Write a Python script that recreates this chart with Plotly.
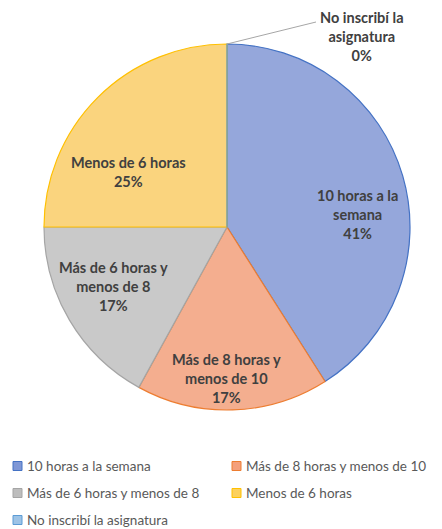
import plotly.graph_objects as go

categories = ["10 horas a la semana", "Más de 8 horas y menos de 10",
              "Más de 6 horas y menos de 8", "Menos de 6 horas",
              "No inscribí la asignatura"]
values = [41, 17, 17, 25, 0]
wrapped_labels = ["10 horas a la<br>semana", "Más de 8 horas y<br>menos de 10",
                  "Más de 6 horas y<br>menos de 8", "Menos de 6 horas",
                  "No inscribí la<br>asignatura"]

fill_colors = ["#95a7db", "#f4ae8f", "#c9c9c9", "#fad47e", "#9dc3e6"]
line_colors = ["#4472c4", "#ed7d31", "#a5a5a5", "#ffc000", "#5b9bd5"]
legend_fill = ["#7f97d6", "#f4a07c", "#bdbdbd", "#fcd15f", "#9dc3e6"]

# page body has an 8px margin; work in window pixels and convert
OFF = 8
W, H = 442 - OFF, 529 - OFF


def px_x(x):
    return (x - OFF) / W


def px_y(y):
    return 1 - (y - OFF) / H


fig = go.Figure()
fig.add_trace(go.Pie(
    labels=categories, values=values, sort=False, direction="clockwise",
    rotation=0, textinfo="none", hoverinfo="skip", showlegend=False,
    marker=dict(colors=fill_colors, line=dict(color=line_colors, width=1.2)),
    domain=dict(x=[px_x(44), px_x(410)], y=[px_y(410), px_y(44)]),
))

total = sum(values)
label_pos = [(357, 215), (226, 378), (113, 286), (128, 172), (362, 37)]
annotations = []
shapes = []
for lab, v, (lx, ly) in zip(wrapped_labels, values, label_pos):
    annotations.append(dict(
        x=px_x(lx), y=px_y(ly), xref="paper", yref="paper",
        text=f"<b>{lab}<br>{round(100 * v / total)}%</b>", showarrow=False,
        font=dict(family="Lato", size=14.5, color="#404040"),
        align="center", xanchor="center", yanchor="middle"))
shapes.append(dict(type="line", xref="paper", yref="paper",
                   x0=px_x(227), y0=px_y(44), x1=px_x(316), y1=px_y(22),
                   line=dict(color="#a6a6a6", width=1)))

leg_pos = [(13, 466), (232, 466), (13, 493), (232, 493), (13, 520)]
for cat, fc, lc, (lx, ly) in zip(categories, legend_fill, line_colors, leg_pos):
    shapes.append(dict(type="rect", xref="paper", yref="paper",
                       x0=px_x(lx), x1=px_x(lx + 9), y0=px_y(ly + 4.5), y1=px_y(ly - 4.5),
                       fillcolor=fc, line=dict(color=lc, width=1)))
    annotations.append(dict(
        x=px_x(lx + 12), y=px_y(ly), xref="paper", yref="paper",
        text=cat, showarrow=False, xanchor="left", yanchor="middle",
        font=dict(family="Lato", size=13.5, color="#595959")))

fig.update_layout(
    width=W, height=H, margin=dict(l=0, r=0, t=0, b=0),
    paper_bgcolor="white", plot_bgcolor="white",
    annotations=annotations, shapes=shapes, showlegend=False,
)
fig.write_html("out.html")
